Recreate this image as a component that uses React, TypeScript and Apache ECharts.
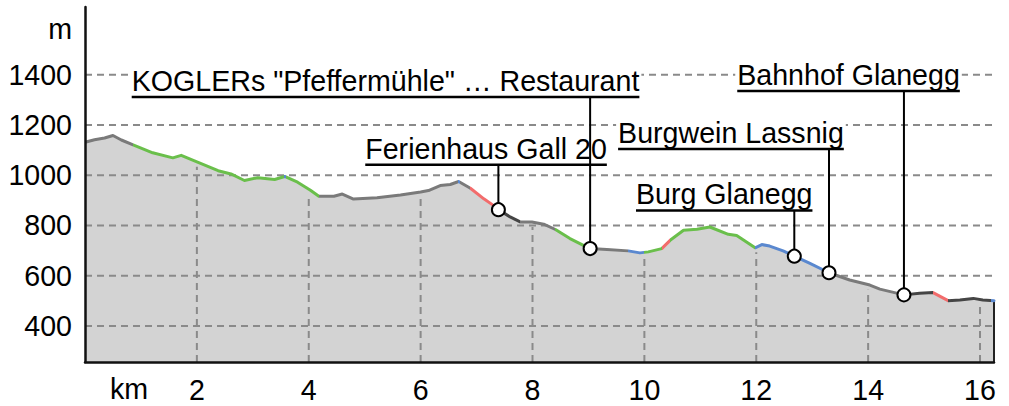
import React, { useEffect, useRef } from 'react';
import * as echarts from 'echarts';

// ---- Data ----
const distanceKm = [
  0, 0.17, 0.35, 0.5, 0.65, 0.86, 1.21, 1.57, 1.72, 1.99, 2.38, 2.61, 2.85, 3.09, 3.39, 3.57,
  3.8, 4.03, 4.18, 4.45, 4.6, 4.8, 5.22, 5.64, 6.0, 6.14, 6.35, 6.53, 6.68, 6.89, 7.13, 7.3,
  7.39, 7.6, 7.78, 7.99, 8.2, 8.41, 8.67, 8.91, 9.03, 9.33, 9.71, 9.92, 10.07, 10.31, 10.46,
  10.7, 10.94, 11.17, 11.5, 11.65, 11.98, 12.1, 12.24, 12.48, 12.68, 12.96, 13.3, 13.67, 14.03,
  14.21, 14.64, 14.92, 15.16, 15.43, 15.64, 15.88, 16.05, 16.25,
];
const elevationM = [
  1131, 1141, 1148, 1158, 1140, 1121, 1089, 1069, 1079, 1054, 1018, 1005, 979, 990, 983, 995,
  972, 940, 916, 916, 925, 905, 910, 921, 933, 939, 959, 963, 975, 948, 906, 880,
  863, 834, 814, 814, 805, 784, 748, 721, 708, 704, 699, 691, 695, 708, 741,
  781, 785, 794, 765, 760, 711, 724, 718, 699, 678, 649, 612, 583, 563,
  547, 524, 530, 533, 501, 504, 510, 504, 501,
];

// Surface / way-type colour segments along the track (end km of each segment)
const segmentEnds = [0.86, 3.56, 3.6, 4.18, 6.66, 6.7, 6.89, 7.37, 7.78, 8.41, 9.0, 9.71, 10.0, 10.31, 10.46, 11.98, 13.3, 14.64, 15.16, 15.43, 16.2, 16.25];
const segmentColors = ['gray', 'green', 'blue', 'green', 'gray', 'blue', 'gray', 'red', 'dark', 'gray', 'green', 'gray', 'blue', 'green', 'red', 'green', 'blue', 'gray', 'dark', 'red', 'dark', 'blue'];
const palette: Record<string, string> = {
  gray: '#7a7a7a',
  green: '#6abf4b',
  blue: '#5a88cf',
  red: '#f26c6c',
  dark: '#454545',
};

const xTicks = [2, 4, 6, 8, 10, 12, 14, 16];
const yTicks = [400, 600, 800, 1000, 1200, 1400];

// Points of interest
const poiNames = [
  'Ferienhaus Gall 20',
  'KOGLERs "Pfeffermühle" … Restaurant',
  'Burg Glanegg',
  'Burgwein Lassnig',
  'Bahnhof Glanegg',
];
const poiKm = [7.39, 9.03, 12.68, 13.3, 14.64];
const poiElev = [863, 708, 678, 612, 524];
const labelKm = [5.01, 0.835, 9.85, 9.53, 11.66];
const labelElev = [1042, 1311, 860, 1104, 1335];

// ---- Layout constants ----
const X_MIN = 0;
const X_MAX = 16.25;
const Y_MIN = 257;
const Y_MAX = 1669;
const FONT = '"Liberation Sans", Arial, Helvetica, sans-serif';
const FS = 28.6;
const GRID_COLOR = '#8a8a8a';
const INK = '#000';

function elevAt(x: number): number {
  for (let i = 1; i < distanceKm.length; i++) {
    if (x <= distanceKm[i]) {
      const x0 = distanceKm[i - 1];
      const x1 = distanceKm[i];
      const t = (x - x0) / (x1 - x0);
      return elevationM[i - 1] + t * (elevationM[i] - elevationM[i - 1]);
    }
  }
  return elevationM[elevationM.length - 1];
}

let measureCtx: CanvasRenderingContext2D | null = null;
function textWidth(t: string): number {
  if (!measureCtx) measureCtx = document.createElement('canvas').getContext('2d');
  if (!measureCtx) return t.length * FS * 0.55;
  measureCtx.font = `${FS}px ${FONT}`;
  return measureCtx.measureText(t).width;
}

export default function App() {
  const ref = useRef<HTMLDivElement>(null);

  useEffect(() => {
    if (!ref.current) return;
    const chart = echarts.init(ref.current, null, { renderer: 'svg' });

    const profile = distanceKm.map((d, i) => [d, elevationM[i]]);
    let prev = X_MIN;
    const pieces = segmentEnds.map((end, i) => {
      const p = { gte: prev, lt: i === segmentEnds.length - 1 ? end + 1 : end, color: palette[segmentColors[i]] };
      prev = end;
      return p;
    });

    const option: any = {
      animation: false,
      textStyle: { fontFamily: FONT },
      grid: { left: 85, right: 15, top: 7, bottom: 44, containLabel: false, outerBoundsMode: 'none' },
      xAxis: {
        type: 'value',
        min: X_MIN,
        max: X_MAX,
        interval: 2,
        z: 5,
        axisLine: { show: true, onZero: false, lineStyle: { color: '#111', width: 2.5 } },
        axisTick: { show: false },
        splitLine: { show: false },
        axisLabel: {
          margin: 13,
          fontSize: FS,
          color: INK,
          fontFamily: FONT,
          showMaxLabel: false,
          formatter: (v: number) => (xTicks.indexOf(v) >= 0 ? String(v) : ''),
        },
      },
      yAxis: {
        type: 'value',
        min: Y_MIN,
        max: Y_MAX,
        z: 5,
        axisLine: { show: true, onZero: false, lineStyle: { color: '#111', width: 2.5 } },
        axisTick: { show: false },
        splitLine: { show: false },
        axisLabel: { show: false },
      },
      visualMap: {
        type: 'piecewise',
        show: false,
        dimension: 0,
        seriesIndex: 3,
        pieces,
      },
      graphic: [
        {
          type: 'text',
          x: 129,
          y: 389,
          style: { text: 'km', fontSize: FS, fontFamily: FONT, fill: INK, align: 'center', verticalAlign: 'middle' },
        },
        {
          type: 'text',
          x: 72,
          y: 29,
          style: { text: 'm', fontSize: FS, fontFamily: FONT, fill: INK, align: 'right', verticalAlign: 'middle' },
        },
      ],
      series: [
        {
          name: 'fill',
          type: 'line',
          data: profile,
          symbol: 'none',
          silent: true,
          z: 1,
          lineStyle: { width: 0, opacity: 0 },
          areaStyle: { color: '#d3d3d3', opacity: 1, origin: 'start' },
        },
        {
          name: 'hgrid',
          type: 'custom',
          silent: true,
          z: 2,
          data: yTicks.map((v) => [X_MIN, v]),
          renderItem: (params: any, api: any) => {
            const v = api.value(1);
            const p0 = api.coord([X_MIN, v]);
            const p1 = api.coord([X_MAX, v]);
            return {
              type: 'group',
              children: [
                {
                  type: 'line',
                  shape: { x1: p0[0], y1: p0[1], x2: p1[0], y2: p1[1] },
                  style: { stroke: GRID_COLOR, lineWidth: 2, lineDash: [7, 5] },
                },
                {
                  type: 'text',
                  x: p0[0] - 13,
                  y: p0[1],
                  style: { text: String(v), fontSize: FS, fontFamily: FONT, fill: INK, align: 'right', verticalAlign: 'middle' },
                },
              ],
            };
          },
        },
        {
          name: 'vgrid',
          type: 'custom',
          silent: true,
          z: 2,
          data: xTicks.map((x) => [x, Y_MIN]).concat([[X_MAX, Y_MIN]]),
          renderItem: (params: any, api: any) => {
            const x = api.value(0);
            const isEdge = x === X_MAX;
            const top = elevAt(x);
            const p0 = api.coord([x, Y_MIN]);
            const p1 = api.coord([x, top]);
            return {
              type: 'line',
              shape: { x1: p0[0], y1: p0[1], x2: p1[0], y2: p1[1] + (isEdge ? 0 : 5) },
              style: isEdge
                ? { stroke: '#222', lineWidth: 2 }
                : { stroke: GRID_COLOR, lineWidth: 2, lineDash: [7, 5] },
            };
          },
        },
        {
          name: 'profile',
          type: 'line',
          data: profile,
          symbol: 'none',
          z: 3,
          lineStyle: { width: 3, join: 'round', cap: 'round' },
        },
        {
          name: 'poi',
          type: 'custom',
          z: 4,
          data: poiKm.map((k, i) => [k, poiElev[i], labelKm[i], labelElev[i]]),
          renderItem: (params: any, api: any) => {
            const i = params.dataIndex;
            const pt = api.coord([api.value(0), api.value(1)]);
            const lb = api.coord([api.value(2), api.value(3)]);
            const name = poiNames[i];
            const w = textWidth(name);
            const uy = lb[1];
            return {
              type: 'group',
              children: [
                { type: 'rect', shape: { x: lb[0] - 2, y: uy - 32, width: w + 4, height: 32 }, style: { fill: '#fff' } },
                {
                  type: 'text',
                  x: lb[0],
                  y: uy - 16,
                  style: { text: name, fontSize: FS, fontFamily: FONT, fill: INK, align: 'left', verticalAlign: 'middle' },
                },
                { type: 'line', shape: { x1: lb[0], y1: uy, x2: lb[0] + w, y2: uy }, style: { stroke: INK, lineWidth: 2.5 } },
                { type: 'line', shape: { x1: pt[0], y1: uy, x2: pt[0], y2: pt[1] }, style: { stroke: INK, lineWidth: 2 } },
                { type: 'circle', shape: { cx: pt[0], cy: pt[1], r: 6.5 }, style: { fill: '#fff', stroke: INK, lineWidth: 2 } },
              ],
            };
          },
        },
      ],
    };

    chart.setOption(option);
    return () => chart.dispose();
  }, []);

  return (
    <div
      ref={ref}
      style={{ position: 'fixed', left: 0, top: 0, width: 1009, height: 406, background: '#fff' }}
    />
  );
}
